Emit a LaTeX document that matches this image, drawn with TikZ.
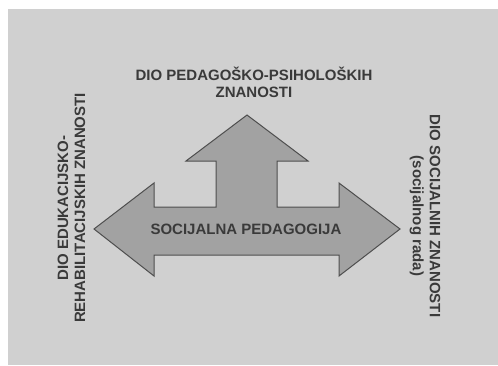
\documentclass[tikz,border=0pt]{standalone}
\usepackage{fontspec}
\setmainfont{Liberation Sans}
\definecolor{paper}{HTML}{D0D0D0}
\definecolor{arrowfill}{HTML}{A2A2A2}
\definecolor{arrowedge}{HTML}{4E4E4E}
\definecolor{inktext}{HTML}{3A3A3A}
\tikzset{
    fieldtext/.style={text=inktext, font=\bfseries\fontsize{15}{17}\selectfont, align=center, inner sep=0pt}
}
\begin{document}
    \begin{tikzpicture}[x=1pt, y=1pt]
        \useasboundingbox (0, 0) rectangle (498, 365);
        \fill[paper] (8, 0) rectangle (498, 356);
        \draw[fill=arrowfill, draw=arrowedge, line width=1pt, line join=miter]
            (247, 250) -- (308, 204) -- (277, 204) -- (277, 158) -- (339, 158) -- (339, 182)
            -- (400, 136) -- (339, 89) -- (339, 110) -- (154, 110) -- (154, 89) -- (94, 136)
            -- (154, 182) -- (154, 158) -- (216, 158) -- (216, 204) -- (186, 204) -- cycle;
        \node[fieldtext] at (254, 283) (pedpsih) {DIO PEDAGOŠKO-PSIHOLOŠKIH\\ZNANOSTI};
        \node[fieldtext] at (246, 136) (socped) {SOCIJALNA PEDAGOGIJA};
        \node[fieldtext, rotate=90] at (71.5, 157) (edurehab) {DIO EDUKACIJSKO-\\REHABILITACIJSKIH ZNANOSTI};
        \node[fieldtext, rotate=-90] at (425, 149) (socznan) {DIO SOCIJALNIH ZNANOSTI\\(socijalnog rada)};
    \end{tikzpicture}
\end{document}
